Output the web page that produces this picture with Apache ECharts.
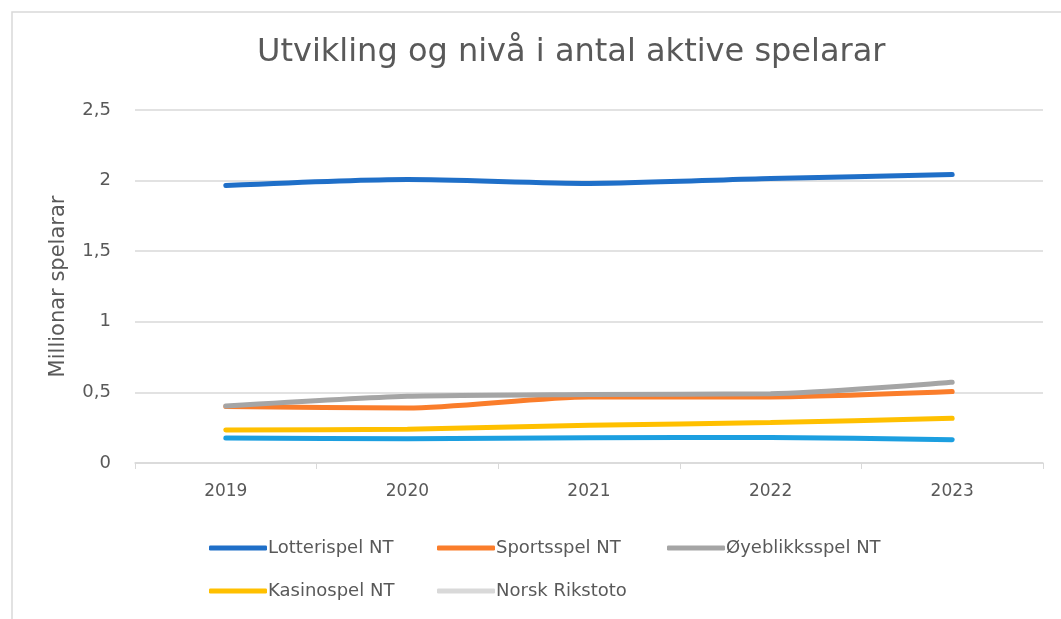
<!DOCTYPE html>
<html>
<head>
<meta charset="utf-8">
<script src="https://cdn.jsdelivr.net/npm/echarts@6/dist/echarts.min.js"></script>
<style>
	html, body { margin: 0; padding: 0; background: #fff; }
	#chart { width: 1061px; height: 619px; }
</style>
</head>
<body>
<div id="chart"></div>
<script>
	// == data ==
	const years = ['2019', '2020', '2021', '2022', '2023'];
	const lotterispel = [1.965, 2.008, 1.98, 2.014, 2.043];
	const sportsspel = [0.40, 0.39, 0.468, 0.468, 0.506];
	const oyeblikksspel = [0.403, 0.472, 0.485, 0.49, 0.572];
	const kasinospel = [0.234, 0.239, 0.268, 0.286, 0.317];
	const rikstoto = [0.177, 0.172, 0.179, 0.181, 0.165];
	const yTicks = [0, 0.5, 1, 1.5, 2, 2.5];

	const txt = '#595959';
	const font = 'DejaVu Sans';

	const names = ['Lotterispel NT', 'Sportsspel NT', 'Øyeblikksspel NT', 'Kasinospel NT', 'Norsk Rikstoto'];
	const colors = ['#1f6fc8', '#fa7d2b', '#a5a5a5', '#ffc000', '#1c9fe0'];
	const legendColors = ['#1f6fc8', '#fa7d2b', '#a5a5a5', '#ffc000', '#d9d9d9'];
	const values = [lotterispel, sportsspel, oyeblikksspel, kasinospel, rikstoto];
	const legendPos = [[204, 534], [432, 534], [662, 534], [204, 577], [432, 577]];

	const chart = echarts.init(document.getElementById('chart'));

	const option = {
		animation: false,
		backgroundColor: '#fff',
		title: {
			text: 'Utvikling og nivå i antal aktive spelarar',
			left: 252,
			top: 32,
			textStyle: { fontFamily: font, fontSize: 32, fontWeight: 'normal', color: txt },
		},
		graphic: [
			{
				type: 'rect',
				shape: { x: 12, y: 12, width: 1070, height: 640 },
				style: { fill: 'none', stroke: '#d9d9d9', lineWidth: 1.5 },
				silent: true,
			},
		],
		legend: names.map((n, i) => ({
			left: legendPos[i][0],
			top: legendPos[i][1],
			data: [{ name: n, itemStyle: { color: legendColors[i] }, lineStyle: { color: legendColors[i] } }],
			icon: 'roundRect',
			itemWidth: 58,
			itemHeight: 5,
			textStyle: { fontFamily: font, fontSize: 18, color: txt, padding: [0, 0, 0, -4] },
		})),
		grid: { left: 135, right: 18, top: 110, bottom: 156, containLabel: false },
		xAxis: {
			type: 'category',
			data: years,
			boundaryGap: true,
			axisLine: { lineStyle: { color: '#d9d9d9', width: 1.5 } },
			axisTick: { show: true, length: 6, lineStyle: { color: '#d9d9d9' } },
			axisLabel: { fontFamily: font, fontSize: 17, color: txt, margin: 20 },
		},
		yAxis: {
			type: 'value',
			min: 0,
			max: yTicks[yTicks.length - 1],
			interval: 0.5,
			name: 'Millionar spelarar',
			nameLocation: 'middle',
			nameGap: 66,
			nameTextStyle: { fontFamily: font, fontSize: 21, color: txt },
			axisLine: { show: false },
			axisTick: { show: false },
			splitLine: { lineStyle: { color: '#d9d9d9', width: 1.5 } },
			axisLabel: {
				fontFamily: font,
				fontSize: 18,
				color: txt,
				margin: 24,
				formatter: (v) => String(v).replace('.', ','),
			},
		},
		series: names.map((n, i) => ({
			name: n,
			type: 'line',
			data: values[i],
			smooth: 0.25,
			showSymbol: false,
			color: colors[i],
			lineStyle: { width: 5, cap: 'round', color: colors[i] },
			z: 2 + i,
		})),
	};

	option && chart.setOption(option);
</script>
</body>
</html>
